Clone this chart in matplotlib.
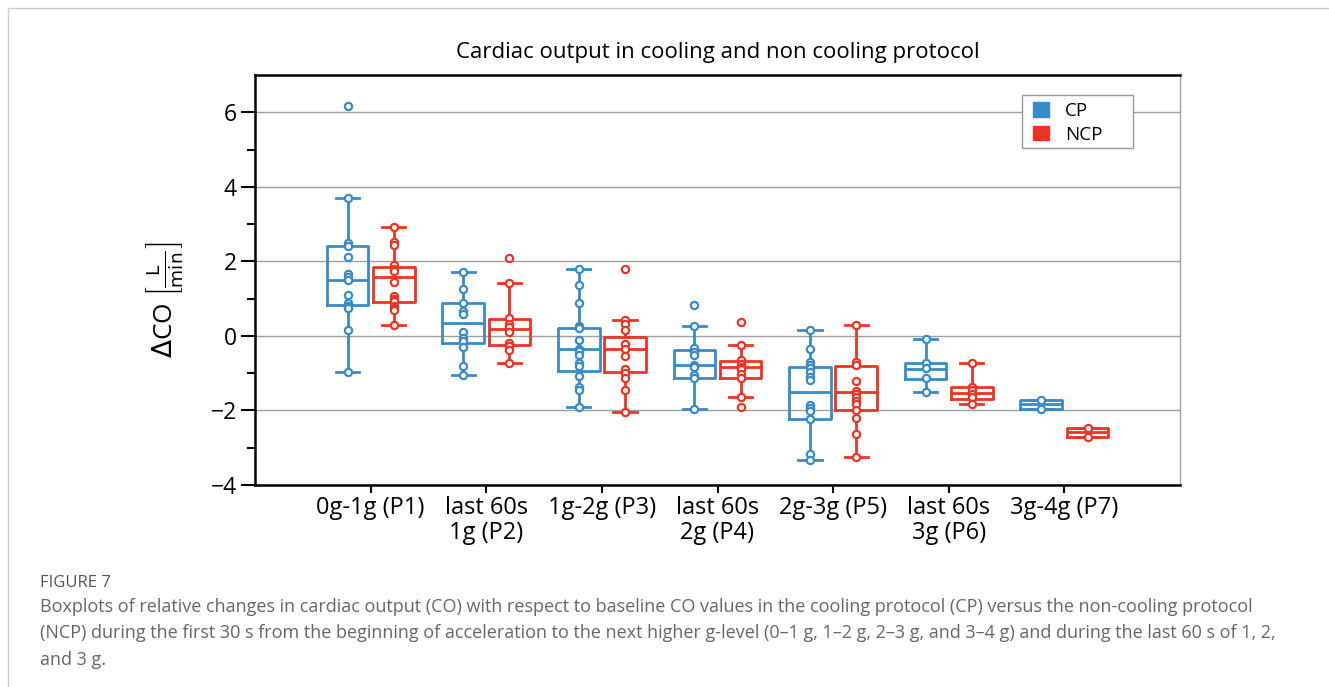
import matplotlib
matplotlib.use("Agg")
import matplotlib.pyplot as plt
from matplotlib.patches import Patch, Rectangle
from matplotlib.lines import Line2D
import numpy as np

plt.rcParams['font.family'] = ['Open Sans', 'DejaVu Sans']
plt.rcParams['mathtext.fontset'] = 'dejavusans'

categories = ["0g-1g (P1)", "last 60s\n1g (P2)", "1g-2g (P3)", "last 60s\n2g (P4)",
              "2g-3g (P5)", "last 60s\n3g (P6)", "3g-4g (P7)"]
series_names = ["CP", "NCP"]

# individual data points
cp_points = [
    [6.17, 3.69, 2.48, 2.40, 2.12, 1.66, 1.57, 1.49, 1.09, 0.87, 0.80, 0.74, 0.15, -0.97],
    [1.72, 1.25, 0.89, 0.66, 0.60, 0.10, -0.06, -0.14, -0.30, -0.80, -1.05],
    [1.79, 1.36, 0.87, 0.26, 0.20, -0.10, -0.34, -0.40, -0.52, -0.74, -0.81, -1.08, -1.38, -1.45, -1.91],
    [0.82, 0.26, -0.33, -0.43, -0.50, -0.79, -0.83, -1.06, -1.14, -1.95],
    [0.17, -0.34, -0.70, -0.79, -0.87, -0.97, -1.09, -1.17, -1.85, -1.93, -2.02, -2.22, -3.18, -3.34],
    [-0.07, -0.74, -0.87, -1.14, -1.50],
    [-1.72, -1.95],
]
ncp_points = [
    [2.92, 2.52, 2.43, 1.90, 1.80, 1.74, 1.45, 1.07, 1.00, 0.94, 0.80, 0.74, 0.69, 0.29],
    [2.08, 1.42, 0.47, 0.31, 0.24, 0.11, -0.19, -0.28, -0.37, -0.74],
    [1.80, 0.44, 0.33, 0.17, -0.22, -0.34, -0.55, -0.89, -0.99, -1.13, -1.44, -2.04],
    [0.38, -0.25, -0.65, -0.75, -0.83, -0.90, -1.01, -1.12, -1.64, -1.90],
    [0.29, -0.70, -0.77, -1.20, -1.47, -1.55, -1.64, -1.74, -1.84, -1.98, -2.19, -2.62, -3.25],
    [-0.72, -1.36, -1.45, -1.55, -1.64, -1.83],
    [-2.46, -2.71],
]

# box statistics
cp_q1 = [0.82, -0.20, -0.95, -1.12, -2.22, -1.16, -1.97]
cp_med = [1.49, 0.34, -0.36, -0.79, -1.50, -0.89, -1.83]
cp_q3 = [2.42, 0.89, 0.22, -0.38, -0.83, -0.74, -1.71]
cp_lo = [-0.97, -1.05, -1.91, -1.95, -3.34, -1.50, -1.97]
cp_hi = [3.69, 1.72, 1.79, 0.26, 0.17, -0.07, -1.71]

ncp_q1 = [0.92, -0.25, -0.96, -1.12, -2.00, -1.70, -2.71]
ncp_med = [1.59, 0.19, -0.36, -0.83, -1.50, -1.53, -2.59]
ncp_q3 = [1.85, 0.45, -0.02, -0.68, -0.80, -1.37, -2.46]
ncp_lo = [0.29, -0.74, -2.04, -1.64, -3.25, -1.83, -2.71]
ncp_hi = [2.92, 1.42, 0.44, -0.25, 0.29, -0.72, -2.46]

CP_COLOR = '#3a8ac5'
NCP_COLOR = '#ec3325'

W, H = 1329, 687
fig = plt.figure(figsize=(W / 100, H / 100), dpi=100)
AX_L, AX_R, AX_T, AX_B = 255, 1180, 75, 485
ax = fig.add_axes([AX_L / W, 1 - AX_B / H, (AX_R - AX_L) / W, (AX_B - AX_T) / H])

def stats(q1, med, q3, lo, hi):
    return [dict(q1=a, med=b, q3=c, whislo=d, whishi=e, fliers=[], label='')
            for a, b, c, d, e in zip(q1, med, q3, lo, hi)]

pos = np.arange(len(categories))
off = 0.2
width = 0.36
for st, pts, color, sign in [
        (stats(cp_q1, cp_med, cp_q3, cp_lo, cp_hi), cp_points, CP_COLOR, -1),
        (stats(ncp_q1, ncp_med, ncp_q3, ncp_lo, ncp_hi), ncp_points, NCP_COLOR, 1)]:
    p = pos + sign * off
    lw = 2.0
    ax.bxp(st, positions=p, widths=width, showfliers=False, patch_artist=False,
           boxprops=dict(color=color, linewidth=lw),
           medianprops=dict(color=color, linewidth=lw),
           whiskerprops=dict(color=color, linewidth=lw),
           capprops=dict(color=color, linewidth=lw),
           capwidths=0.2, manage_ticks=False, zorder=3)
    for xi, vals in zip(p, pts):
        ax.plot(np.full(len(vals), xi), vals, 'o', ms=5.2, mfc='white', mec=color,
                mew=1.6, zorder=4, ls='none')

ax.set_xlim(-1, 7)
ax.set_ylim(-4, 7)
ax.set_yticks([-4, -2, 0, 2, 4, 6])
ax.set_yticks([-3, -1, 1, 3, 5], minor=True)
ax.set_xticks(pos)
ax.set_xticklabels(categories, fontsize=17, linespacing=1.05)
ax.tick_params(axis='y', labelsize=16.5, length=10, width=1.5, direction='out', pad=3)
ax.tick_params(axis='y', which='minor', length=6, width=1.5)
ax.tick_params(axis='x', length=6, width=1.5, pad=2)
ax.grid(axis='y', which='major', color='#a0a0a0', linewidth=1.0, zorder=0)
ax.set_axisbelow(True)
for s in ['left', 'bottom', 'top']:
    ax.spines[s].set_linewidth(1.8)
    ax.spines[s].set_color('black')
ax.spines['right'].set_linewidth(1.0)
ax.spines['right'].set_color('#a0a0a0')

ax.set_ylabel(r'$\Delta$CO $\left[\frac{\mathrm{L}}{\mathrm{min}}\right]$', fontsize=19)
ax.yaxis.set_label_coords((185 - AX_L) / (AX_R - AX_L), (AX_B - 300) / (AX_B - AX_T))
ax.set_title('Cardiac output in cooling and non cooling protocol', fontsize=16, pad=12)

# legend with a manually drawn frame
handles = [Patch(facecolor=CP_COLOR, edgecolor=CP_COLOR, label=series_names[0]),
           Patch(facecolor=NCP_COLOR, edgecolor=NCP_COLOR, label=series_names[1])]
lx0, lx1, ly0, ly1 = 1022, 1133, 95, 148
def ax_x(px):
    return (px - AX_L) / (AX_R - AX_L)
def ax_y(py):
    return (AX_B - py) / (AX_B - AX_T)
ax.add_patch(Rectangle((ax_x(lx0), ax_y(ly1)), ax_x(lx1) - ax_x(lx0), ax_y(ly0) - ax_y(ly1),
                       transform=ax.transAxes, facecolor='white', edgecolor='#999999',
                       linewidth=1.0, zorder=9))
leg = ax.legend(handles=handles, loc='upper left', bbox_to_anchor=(ax_x(1031), ax_y(100)),
                fontsize=13.5, frameon=False, handlelength=0.85, handleheight=0.85,
                borderpad=0.1, labelspacing=0.3, handletextpad=0.85, borderaxespad=0)
leg.set_zorder(10)

# card border
fig.add_artist(Line2D([8 / W, 1], [1 - 8 / H, 1 - 8 / H], color='#cccccc', lw=1.0,
                      transform=fig.transFigure))
fig.add_artist(Line2D([8 / W, 8 / W], [0, 1 - 8 / H], color='#cccccc', lw=1.0,
                      transform=fig.transFigure))

fig.text(40 / W, 1 - 583 / H, 'FIGURE 7', fontsize=12, color='#555555', va='center',
         family=['Open Sans', 'DejaVu Sans'])
caption = ("Boxplots of relative changes in cardiac output (CO) with respect to baseline CO values in the cooling protocol (CP) versus the non-cooling protocol\n"
           "(NCP) during the first 30 s from the beginning of acceleration to the next higher g-level (0\u20131 g, 1\u20132 g, 2\u20133 g, and 3\u20134 g) and during the last 60 s of 1, 2,\n"
           "and 3 g.")
fig.text(40 / W, 1 - 598 / H, caption, fontsize=13, color='#666666', va='top',
         linespacing=1.6, family=['Open Sans', 'DejaVu Sans'])

fig.savefig('out.png', dpi=100, facecolor='white')
